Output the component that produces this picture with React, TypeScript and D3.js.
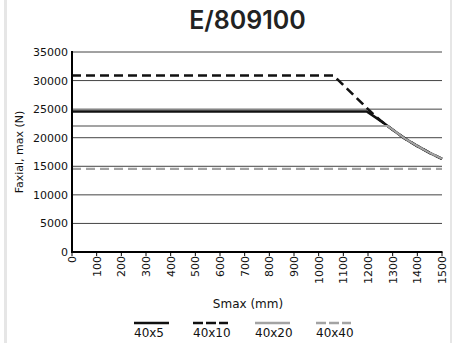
import React from "react";
import * as d3 from "d3";

const xTickValues = [0, 100, 200, 300, 400, 500, 600, 700, 800, 900, 1000, 1100, 1200, 1300, 1400, 1500];
const yTickValues = [0, 5000, 10000, 15000, 20000, 25000, 30000, 35000];

const seriesNames = ["40x5", "40x10", "40x20", "40x40"];
const s40x5: [number, number][] = [[0, 24600], [1195, 24600], [1250, 23000], [1300, 21400], [1350, 19850], [1400, 18550], [1450, 17350], [1500, 16300]];
const s40x10: [number, number][] = [[0, 30900], [1060, 30900], [1200, 25000], [1250, 23000], [1300, 21400], [1350, 19850], [1400, 18550], [1450, 17350], [1500, 16300]];
const s40x20: [number, number][] = [[0, 22050], [1280, 22050], [1300, 21400], [1350, 19850], [1400, 18550], [1450, 17350], [1500, 16300]];
const s40x40: [number, number][] = [[0, 14550], [1500, 14550]];

const W = 457;
const H = 343;
const FONT = "'DejaVu Sans', Verdana, sans-serif";

const styles = [
  { color: "#111", width: 2.6, dash: "" },
  { color: "#111", width: 2.6, dash: "9,5" },
  { color: "#a3a3a3", width: 2.2, dash: "" },
  { color: "#a3a3a3", width: 2.2, dash: "9,5" },
];

export default function App() {
  const x = d3.scaleLinear().domain([0, 1500]).range([72, 442]);
  const y = d3.scaleLinear().domain([0, 35000]).range([252, 52]);
  const line = d3.line<[number, number]>().x((d) => x(d[0])).y((d) => y(d[1]));
  const data = [s40x5, s40x10, s40x20, s40x40];
  const legendX = [134, 193, 255, 316];

  return (
    <svg width={W} height={H} style={{ position: "absolute", left: 0, top: 0, background: "#fff" }} fontFamily={FONT}>
      <rect x={0} y={0} width={W} height={H} fill="#fff" />
      <rect x={4} y={0} width={3} height={H} fill="#e6e6e6" />
      <rect x={450} y={0} width={2} height={H} fill="#e6e6e6" />
      <text x={247.5} y={29} textAnchor="middle" fontFamily="Inter, 'Open Sans', sans-serif" fontWeight={600} fontSize={25} fill="#222">E/809100</text>

      {yTickValues.filter((v) => v > 0).map((v) => (
        <line key={"g" + v} x1={x(0)} x2={x(1500)} y1={y(v)} y2={y(v)} stroke="#444" strokeWidth={1} />
      ))}

      {data.map((d, i) => (
        <path key={"s" + i} d={line(d) || ""} fill="none" stroke={styles[i].color} strokeWidth={styles[i].width} strokeDasharray={styles[i].dash || undefined} />
      ))}

      <line x1={x(0)} x2={x(0)} y1={y(35000) - 1} y2={y(0) + 1} stroke="#000" strokeWidth={2} />
      <line x1={x(0) - 1} x2={x(1500) + 0.5} y1={y(0)} y2={y(0)} stroke="#000" strokeWidth={2} />
      {xTickValues.map((v) => (
        <line key={"t" + v} x1={x(v)} x2={x(v)} y1={y(0)} y2={y(0) + 4} stroke="#000" strokeWidth={1} />
      ))}

      {yTickValues.map((v) => (
        <text key={"yl" + v} x={68} y={y(v) + 4} textAnchor="end" fontSize={11} fill="#111">{v}</text>
      ))}
      {xTickValues.map((v) => (
        <text key={"xl" + v} transform={`translate(${x(v) + 4},${y(0) + 4}) rotate(-90)`} textAnchor="end" fontSize={11} fill="#111">{v}</text>
      ))}

      <text transform={`translate(23,152) rotate(-90)`} textAnchor="middle" fontSize={11} fill="#111">Faxial, max (N)</text>
      <text x={248} y={308} textAnchor="middle" fontSize={12} fill="#111">Smax (mm)</text>

      {seriesNames.map((n, i) => (
        <g key={"lg" + n}>
          <line x1={legendX[i]} x2={legendX[i] + 35} y1={323} y2={323} stroke={styles[i].color} strokeWidth={2.4} strokeDasharray={styles[i].dash ? "10,3" : undefined} />
          <text x={legendX[i]} y={337} fontSize={12} fill="#111">{n}</text>
        </g>
      ))}
    </svg>
  );
}
